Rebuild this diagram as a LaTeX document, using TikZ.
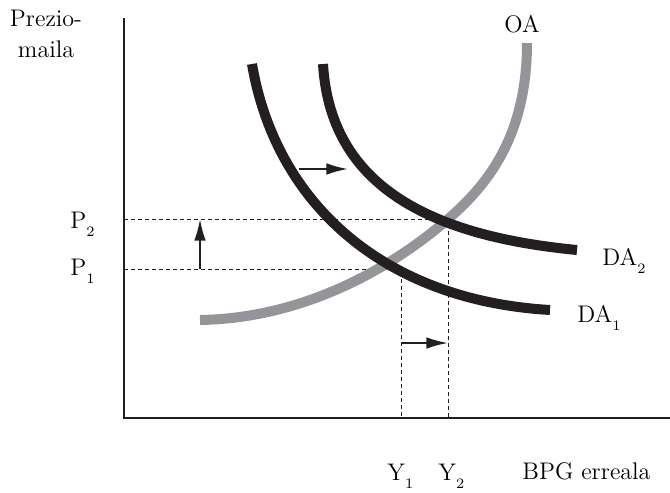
\documentclass[tikz,border=0pt]{standalone}
\usetikzlibrary{arrows.meta}
\definecolor{darkcurve}{RGB}{35,31,32}
\definecolor{oagray}{RGB}{147,149,152}
\newcommand{\lowsub}[1]{\raisebox{-4.3pt}{\fontsize{7.2}{8}\selectfont #1}}
\tikzset{
  lbl/.style={inner sep=0pt, anchor=base west, font=\fontsize{12}{15.5}\selectfont},
  curve/.style={line width=5pt, darkcurve},
  guide/.style={dash pattern=on 2pt off 1.5pt, line width=0.5pt, darkcurve},
  shiftarrow/.style={line width=1pt, darkcurve, -{Latex[length=10.8pt,width=5.8pt]}},
}

\begin{document}
\begin{tikzpicture}[x=0.5pt,y=-0.5pt]
\useasboundingbox (0,0) rectangle (670,493);
\coordinate (O) at (124,418); \coordinate (T) at (124,18); \coordinate (R) at (670,418);
\coordinate (E1) at (401,269); \coordinate (E2) at (448,219);
\coordinate (up0) at (200,269); \coordinate (up1) at (200,219);
\coordinate (mv0) at (401,343); \coordinate (mv1) at (448,343);
\coordinate (da0) at (299,169); \coordinate (da1) at (348,169);
\draw[line width=0.75pt, darkcurve] (T)--(O)--(R);
\draw[guide] (O |- E2) -- (E2) -- (E2 |- O);
\draw[guide] (O |- E1) -- (E1) -- (E1 |- O);
\draw[oagray, line width=5pt] (200,320) .. controls (320,318) and (410,252) .. (447,220)
  .. controls (484,188) and (527,140) .. (527,43);
\draw[curve] (252,64) .. controls (275,200) and (380,300) .. (550,310);
\draw[curve] (323,64) .. controls (330,180) and (420,235) .. (577,250);
\draw[shiftarrow] (up0) -- (up1);
\draw[shiftarrow] (mv0) -- (mv1);
\draw[shiftarrow] (da0) -- (da1);
\node[lbl, anchor=north, align=center] (ylab) at (46,10) {Prezio-\\maila};
\node[lbl] (OA) at (504,32) {OA};
\node[lbl] (P2) at (70,228) {P\lowsub{2}};
\node[lbl] (P1) at (70,275) {P\lowsub{1}};
\node[lbl] (DA2) at (602,265) {DA\lowsub{2}};
\node[lbl] (DA1) at (577,322) {DA\lowsub{1}};
\node[lbl] (Y1) at (387,480) {Y\lowsub{1}};
\node[lbl] (Y2) at (438,480) {Y\lowsub{2}};
\node[lbl] (xlab) at (522,479) {BPG erreala};
\end{tikzpicture}
\end{document}
